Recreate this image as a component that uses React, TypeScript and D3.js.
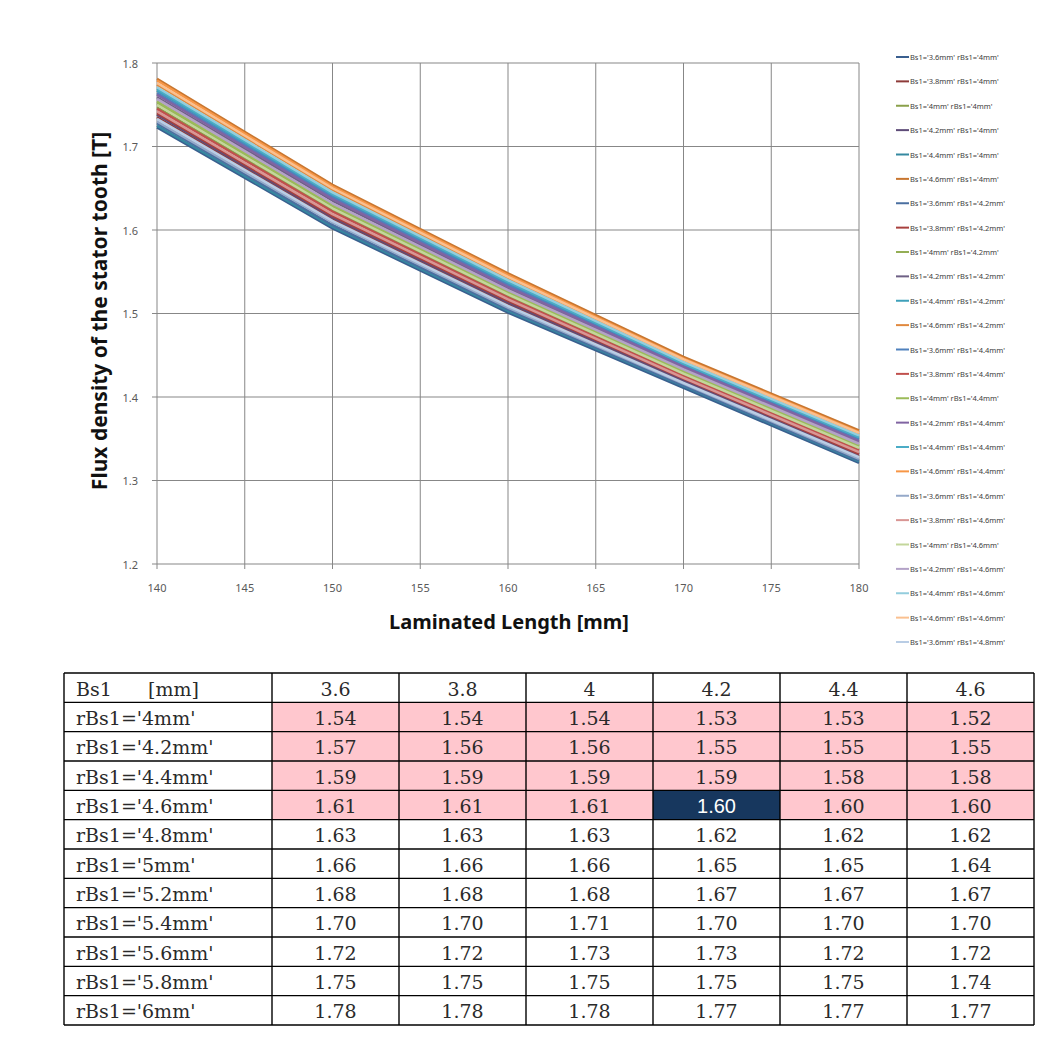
import React from "react";
import * as d3 from "d3";

const lengths = [140, 150, 160, 170, 180];
const xTicks = [140, 145, 150, 155, 160, 165, 170, 175, 180];
const yTicks = [1.2, 1.3, 1.4, 1.5, 1.6, 1.7, 1.8];

const seriesLabels = [
  "Bs1='3.6mm' rBs1='4mm'", "Bs1='3.8mm' rBs1='4mm'", "Bs1='4mm' rBs1='4mm'",
  "Bs1='4.2mm' rBs1='4mm'", "Bs1='4.4mm' rBs1='4mm'", "Bs1='4.6mm' rBs1='4mm'",
  "Bs1='3.6mm' rBs1='4.2mm'", "Bs1='3.8mm' rBs1='4.2mm'", "Bs1='4mm' rBs1='4.2mm'",
  "Bs1='4.2mm' rBs1='4.2mm'", "Bs1='4.4mm' rBs1='4.2mm'", "Bs1='4.6mm' rBs1='4.2mm'",
  "Bs1='3.6mm' rBs1='4.4mm'", "Bs1='3.8mm' rBs1='4.4mm'", "Bs1='4mm' rBs1='4.4mm'",
  "Bs1='4.2mm' rBs1='4.4mm'", "Bs1='4.4mm' rBs1='4.4mm'", "Bs1='4.6mm' rBs1='4.4mm'",
  "Bs1='3.6mm' rBs1='4.6mm'", "Bs1='3.8mm' rBs1='4.6mm'", "Bs1='4mm' rBs1='4.6mm'",
  "Bs1='4.2mm' rBs1='4.6mm'", "Bs1='4.4mm' rBs1='4.6mm'", "Bs1='4.6mm' rBs1='4.6mm'",
  "Bs1='3.6mm' rBs1='4.8mm'",
];

const seriesColors = [
  "#3A5F8F", "#8E3B39", "#8AA04A", "#5E4C78", "#3589A0", "#C8762F",
  "#4A6FA0", "#A8403E", "#94AE55", "#6E6085", "#3EA0BA", "#E0893E",
  "#4F81BD", "#C0504D", "#9BBB59", "#8064A2", "#4BACC6", "#F79646",
  "#95A9C9", "#D99694", "#C3D69B", "#B3A2C7", "#93CDDD", "#FAC090",
  "#B9CDE5",
];

const seriesValues = [
  [1.723, 1.602, 1.501, 1.411, 1.321],
  [1.735, 1.613, 1.511, 1.419, 1.329],
  [1.747, 1.624, 1.521, 1.426, 1.337],
  [1.738, 1.615, 1.513, 1.420, 1.331],
  [1.725, 1.604, 1.503, 1.413, 1.323],
  [1.781, 1.654, 1.548, 1.448, 1.360],
  [1.728, 1.606, 1.505, 1.414, 1.324],
  [1.740, 1.617, 1.515, 1.422, 1.332],
  [1.752, 1.628, 1.525, 1.430, 1.341],
  [1.759, 1.635, 1.530, 1.434, 1.345],
  [1.767, 1.641, 1.536, 1.439, 1.350],
  [1.774, 1.648, 1.542, 1.443, 1.355],
  [1.764, 1.639, 1.534, 1.437, 1.349],
  [1.745, 1.622, 1.519, 1.425, 1.336],
  [1.754, 1.630, 1.526, 1.431, 1.342],
  [1.762, 1.637, 1.532, 1.436, 1.347],
  [1.769, 1.643, 1.538, 1.440, 1.352],
  [1.779, 1.652, 1.546, 1.446, 1.358],
  [1.730, 1.609, 1.507, 1.416, 1.326],
  [1.742, 1.619, 1.517, 1.423, 1.334],
  [1.750, 1.626, 1.523, 1.428, 1.339],
  [1.757, 1.632, 1.528, 1.433, 1.344],
  [1.771, 1.645, 1.540, 1.442, 1.354],
  [1.776, 1.650, 1.544, 1.445, 1.357],
  [1.733, 1.611, 1.509, 1.417, 1.328],
];

const tableHeader = "Bs1      [mm]";
const tableCols = ["3.6", "3.8", "4", "4.2", "4.4", "4.6"];
const tableRows = [
  "rBs1='4mm'", "rBs1='4.2mm'", "rBs1='4.4mm'", "rBs1='4.6mm'", "rBs1='4.8mm'",
  "rBs1='5mm'", "rBs1='5.2mm'", "rBs1='5.4mm'", "rBs1='5.6mm'", "rBs1='5.8mm'", "rBs1='6mm'",
];
const tableValues = [
  [1.54, 1.54, 1.54, 1.53, 1.53, 1.52],
  [1.57, 1.56, 1.56, 1.55, 1.55, 1.55],
  [1.59, 1.59, 1.59, 1.59, 1.58, 1.58],
  [1.61, 1.61, 1.61, 1.60, 1.60, 1.60],
  [1.63, 1.63, 1.63, 1.62, 1.62, 1.62],
  [1.66, 1.66, 1.66, 1.65, 1.65, 1.64],
  [1.68, 1.68, 1.68, 1.67, 1.67, 1.67],
  [1.70, 1.70, 1.71, 1.70, 1.70, 1.70],
  [1.72, 1.72, 1.73, 1.73, 1.72, 1.72],
  [1.75, 1.75, 1.75, 1.75, 1.75, 1.74],
  [1.78, 1.78, 1.78, 1.77, 1.77, 1.77],
];
const pinkRows = 4;
const darkCell = [3, 3];

export default function App() {
  const x = d3.scaleLinear().domain([140, 180]).range([157, 859]);
  const y = d3.scaleLinear().domain([1.2, 1.8]).range([564, 63]);
  const line = d3
    .line<number>()
    .x((_, i) => x(lengths[i]))
    .y((d) => y(d));

  const legendY = d3.scaleLinear().domain([0, 24]).range([57, 642]);

  const tableX0 = 64;
  const colX = d3.scaleBand<string>().domain(tableCols).range([272, 1034]);
  const rowY = d3
    .scaleBand<string>()
    .domain(["header", ...tableRows])
    .range([673, 1025]);
  const rh = rowY.bandwidth();
  const tickFont = "'Noto Sans', 'DejaVu Sans', sans-serif";
  const serif = "'DejaVu Serif', serif";
  const textCol = "#2a2a2a";

  return (
    <svg
      width={1064}
      height={1048}
      style={{ position: "absolute", left: 0, top: 0, background: "#fff" }}
    >
      <rect x={0} y={0} width={1064} height={1048} fill="#fff" />
      {yTicks.map((t) => (
        <g key={"y" + t}>
          <line x1={152} x2={859} y1={y(t)} y2={y(t)} stroke="#878787" strokeWidth={1} />
          <text
            x={138}
            y={y(t)}
            textAnchor="end"
            dominantBaseline="central"
            fontSize={11}
            fill="#595959"
            fontFamily={tickFont}
          >
            {t.toFixed(1)}
          </text>
        </g>
      ))}
      {xTicks.map((t) => (
        <g key={"x" + t}>
          <line x1={x(t)} x2={x(t)} y1={63} y2={569} stroke="#878787" strokeWidth={1} />
          <text
            x={x(t)}
            y={587}
            textAnchor="middle"
            dominantBaseline="central"
            fontSize={11}
            fill="#595959"
            fontFamily={tickFont}
          >
            {t}
          </text>
        </g>
      ))}
      {seriesValues.map((vals, i) => (
        <path
          key={"s" + i}
          d={line(vals) || ""}
          fill="none"
          stroke={seriesColors[i]}
          strokeWidth={2.5}
          strokeLinejoin="round"
        />
      ))}
      <text
        transform={`translate(107, 311) rotate(-90)`}
        textAnchor="middle"
        fontSize={21}
        fontWeight="bold"
        fill="#111"
        fontFamily={tickFont}
      >
        Flux density of the stator tooth [T]
      </text>
      <text
        x={509}
        y={629}
        textAnchor="middle"
        fontSize={20}
        fontWeight="bold"
        fill="#111"
        fontFamily={tickFont}
      >
        Laminated Length [mm]
      </text>
      {seriesLabels.map((lab, i) => (
        <g key={"l" + i}>
          <line
            x1={896}
            x2={909}
            y1={legendY(i)}
            y2={legendY(i)}
            stroke={seriesColors[i]}
            strokeWidth={2}
          />
          <text
            x={910}
            y={legendY(i)}
            dominantBaseline="central"
            fontSize={7.5}
            fill="#404040"
            fontFamily={tickFont}
          >
            {lab}
          </text>
        </g>
      ))}
      <g>
        {tableRows.map((r, ri) =>
          tableCols.map((c, ci) => {
            const isDark = ri === darkCell[0] && ci === darkCell[1];
            const fill = isDark ? "#17375E" : ri < pinkRows ? "#FFC7CE" : "#fff";
            return (
              <rect
                key={`c${ri}-${ci}`}
                x={colX(c)}
                y={rowY(r)}
                width={colX.bandwidth()}
                height={rh}
                fill={fill}
              />
            );
          })
        )}
        {["header", ...tableRows].map((r) => (
          <line
            key={"h" + r}
            x1={tableX0}
            x2={1034}
            y1={rowY(r)}
            y2={rowY(r)}
            stroke="#000"
            strokeWidth={1.4}
          />
        ))}
        <line x1={tableX0} x2={1034} y1={1025} y2={1025} stroke="#000" strokeWidth={1.4} />
        <line x1={tableX0} x2={tableX0} y1={673} y2={1025} stroke="#000" strokeWidth={1.4} />
        {tableCols.map((c) => (
          <line
            key={"v" + c}
            x1={colX(c)}
            x2={colX(c)}
            y1={673}
            y2={1025}
            stroke="#000"
            strokeWidth={1.4}
          />
        ))}
        <line x1={1034} x2={1034} y1={673} y2={1025} stroke="#000" strokeWidth={1.4} />
        <text
          x={tableX0 + 12}
          y={rowY("header")! + rh / 2 + 1}
          dominantBaseline="central"
          fontSize={19}
          fill={textCol}
          fontFamily={serif}
          style={{ whiteSpace: "pre" }}
        >
          {tableHeader}
        </text>
        {tableCols.map((c) => (
          <text
            key={"hc" + c}
            x={colX(c)! + colX.bandwidth() / 2}
            y={rowY("header")! + rh / 2 + 1}
            textAnchor="middle"
            dominantBaseline="central"
            fontSize={19}
            fill={textCol}
            fontFamily={serif}
          >
            {c}
          </text>
        ))}
        {tableRows.map((r, ri) => (
          <g key={"rt" + ri}>
            <text
              x={tableX0 + 12}
              y={rowY(r)! + rh / 2 + 1}
              dominantBaseline="central"
              fontSize={19}
              fill={textCol}
              fontFamily={serif}
            >
              {r}
            </text>
            {tableCols.map((c, ci) => {
              const isDark = ri === darkCell[0] && ci === darkCell[1];
              return (
                <text
                  key={`t${ri}-${ci}`}
                  x={colX(c)! + colX.bandwidth() / 2}
                  y={rowY(r)! + rh / 2 + 1}
                  textAnchor="middle"
                  dominantBaseline="central"
                  fontSize={isDark ? 20 : 19}
                  fill={isDark ? "#fff" : textCol}
                  fontFamily={isDark ? "'Liberation Sans', Arial, sans-serif" : serif}
                >
                  {tableValues[ri][ci].toFixed(2)}
                </text>
              );
            })}
          </g>
        ))}
      </g>
    </svg>
  );
}
